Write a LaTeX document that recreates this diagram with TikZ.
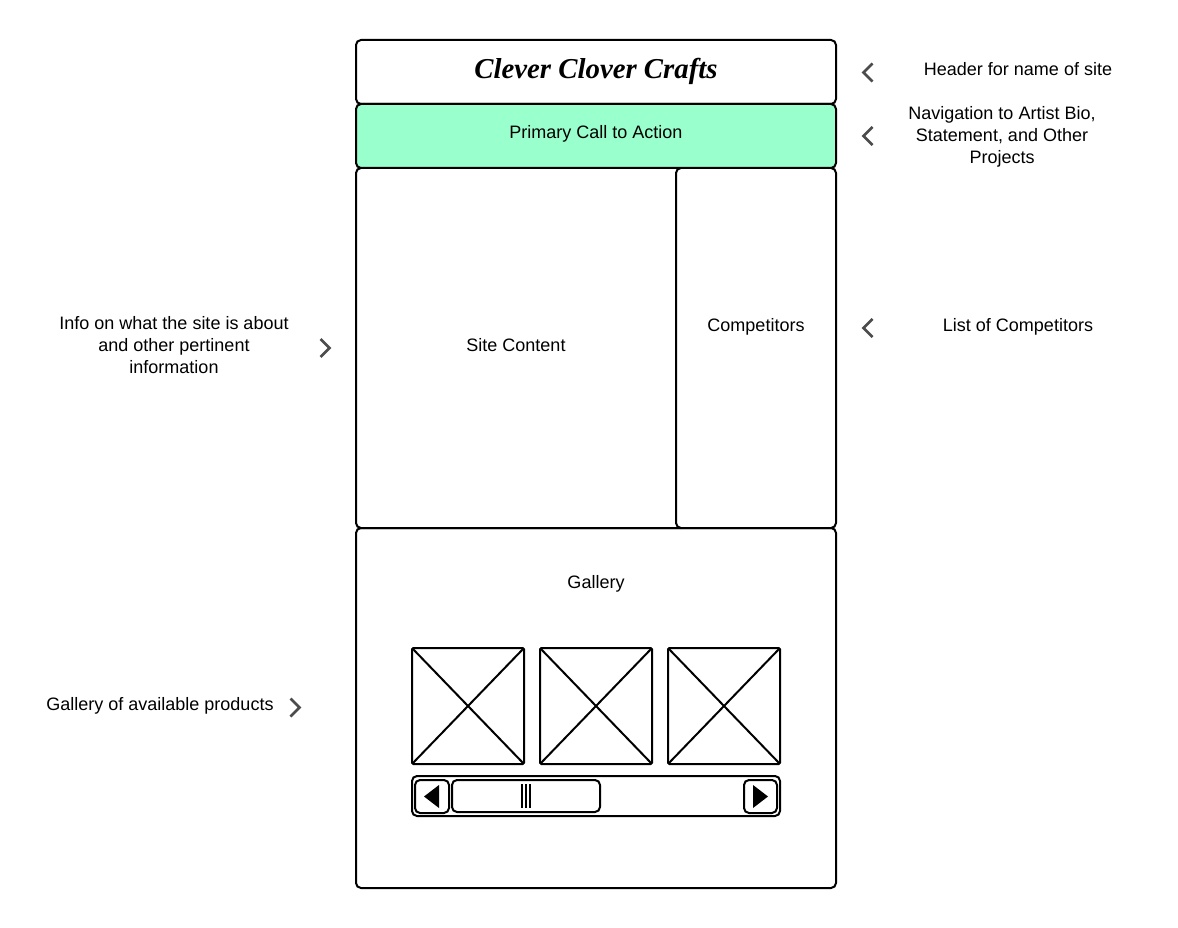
\documentclass[tikz,border=0pt]{standalone}
\usepackage{fontspec}
\setmainfont{Liberation Sans}
\newfontfamily\titlefont{Liberation Serif}
\definecolor{ctagreen}{rgb}{0.6, 1.0, 0.8}
\definecolor{chevrongray}{rgb}{0.3, 0.3, 0.3}
\tikzset{
	panel/.style={draw,line width=2pt,rounded corners=5pt,inner sep=0pt,outer sep=0pt},
	thumbnail/.style={draw,line width=2pt,rounded corners=1.5pt,inner sep=0pt,outer sep=0pt,minimum width=112pt,minimum height=116pt},
	caption/.style={inner sep=0pt,align=center,font=\fontsize{18}{22}\selectfont},
	chevron/.style={draw=chevrongray,line width=2.5pt}
}
\begin{document}
\begin{tikzpicture}[x=1pt,y=-1pt]
			\useasboundingbox (0,0) rectangle (1178,928);
			\node [panel,minimum width=480pt,minimum height=64pt] (header) at (596,72) {};
			\node [panel,minimum width=330pt,minimum height=360pt] (content) at (521,348) {};
			\node [panel,fill=white,minimum width=160pt,minimum height=360pt] (competitors) at (756,348) {};
			\node [panel,fill=ctagreen,minimum width=480pt,minimum height=64pt] (cta) at (596,136) {};
			\node [panel,minimum width=480pt,minimum height=360pt] (gallery) at (596,708) {};
			\node [thumbnail] (imgone) at (468,706) {};
			\node [thumbnail] (imgtwo) at (596,706) {};
			\node [thumbnail] (imgthree) at (724,706) {};
			\draw [line width=2pt] (imgone.north west) -- (imgone.south east);
			\draw [line width=2pt] (imgone.north east) -- (imgone.south west);
			\draw [line width=2pt] (imgtwo.north west) -- (imgtwo.south east);
			\draw [line width=2pt] (imgtwo.north east) -- (imgtwo.south west);
			\draw [line width=2pt] (imgthree.north west) -- (imgthree.south east);
			\draw [line width=2pt] (imgthree.north east) -- (imgthree.south west);
			\node [panel,minimum width=368pt,minimum height=40pt] (scrollbar) at (596,796) {};
			\node [panel,minimum width=34pt,minimum height=33pt] (scrollleft) at (432,796.5) {};
			\node [panel,minimum width=148pt,minimum height=32pt] (scrollthumb) at (526,796) {};
			\node [panel,minimum width=33pt,minimum height=33pt] (scrollright) at (760.5,796.5) {};
			\fill (424,796.5) -- (439,785) -- (439,808) -- cycle;
			\fill (768,796.5) -- (753,785) -- (753,808) -- cycle;
			\draw [line width=1.5pt] (522,784) -- (522,808);
			\draw [line width=1.5pt] (526,784) -- (526,808);
			\draw [line width=1.5pt] (530,784) -- (530,808);
			\node [inner sep=0pt,font=\titlefont\fontsize{28.8}{34}\selectfont\bfseries\itshape] (title) at (596,71) {Clever Clover Crafts};
			\node [caption] (ctatext) at (596,134) {Primary Call to Action};
			\node [caption] (contenttext) at (516,345) {Site Content};
			\node [caption] (competitorstext) at (756,327) {Competitors};
			\node [caption] (gallerytext) at (596,584) {Gallery};
			\node [caption] (noteheader) at (1018,69) {Header for name of site};
			\node [caption] (notenav) at (1002,137) {Navigation to Artist Bio,\\Statement, and Other\\Projects};
			\node [caption] (notecompetitors) at (1018,327) {List of Competitors};
			\node [caption] (noteinfo) at (174,345.5) {Info on what the site is about\\and other pertinent\\information};
			\node [caption] (notegallery) at (160,705.5) {Gallery of available products};
			\draw [chevron] (872.5,63.5) -- (863.5,72.5) -- (872.5,81.5);
			\draw [chevron] (872.5,127) -- (863.5,136) -- (872.5,145);
			\draw [chevron] (872.5,319) -- (863.5,328) -- (872.5,337);
			\draw [chevron] (320.5,339) -- (329.5,348) -- (320.5,357);
			\draw [chevron] (290.5,698.5) -- (299.5,707.5) -- (290.5,716.5);
		\end{tikzpicture}
\end{document}
